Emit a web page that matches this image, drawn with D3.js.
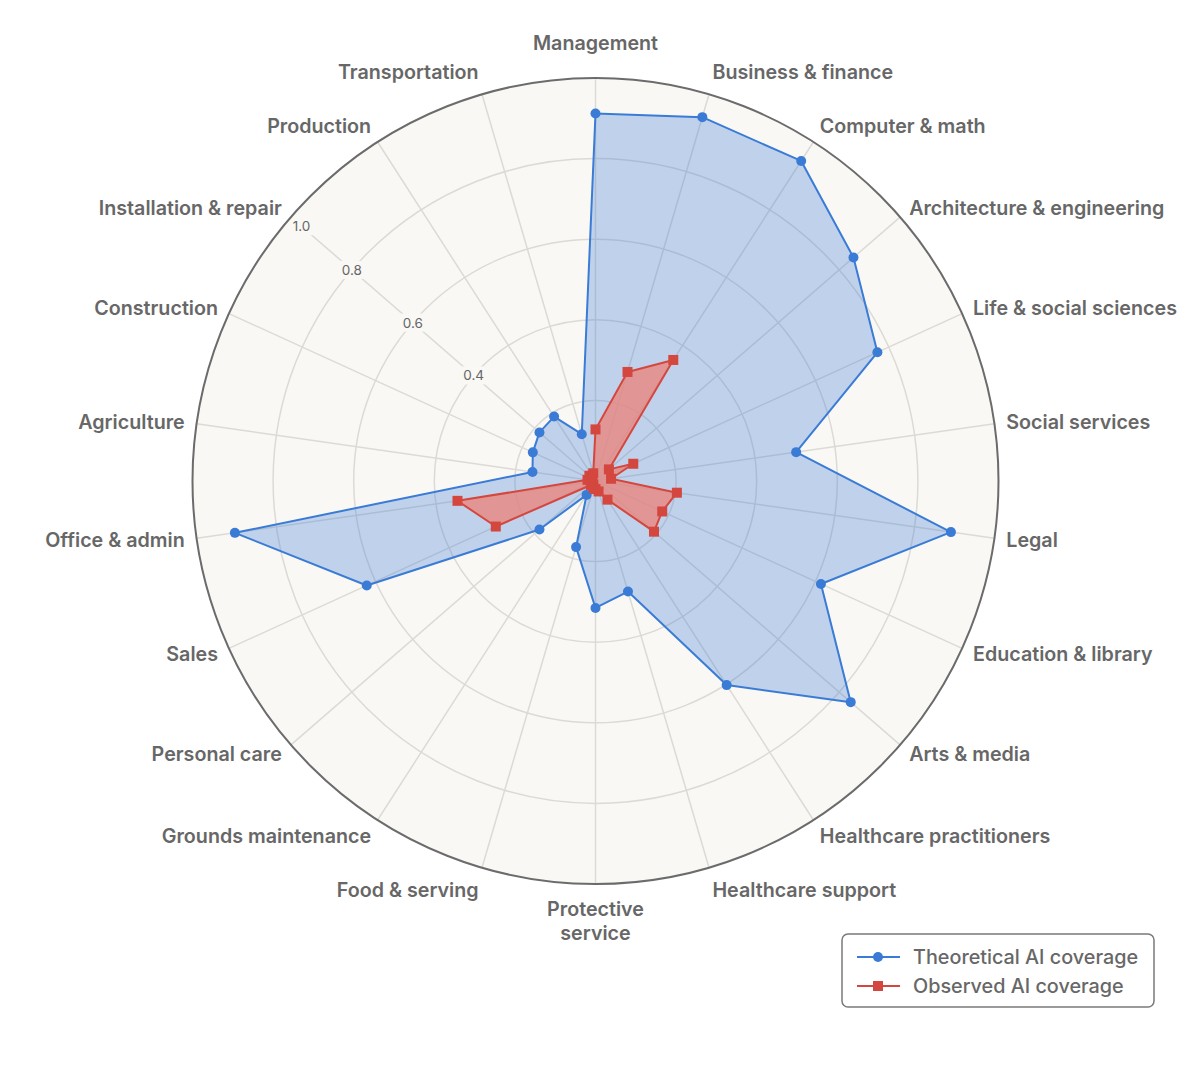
<!DOCTYPE html>
<html>
<head>
<meta charset="utf-8">
<script src="https://cdn.jsdelivr.net/npm/d3@7"></script>
<style>
  html, body { margin: 0; padding: 0; background: #ffffff; }
  svg { display: block; }
  text { font-family: "Inter", "Lato", sans-serif; }
</style>
</head>
<body>
<svg id="chart" width="1200" height="1073"></svg>
<script>
const categories = [
  "Management", "Business & finance", "Computer & math", "Architecture & engineering",
  "Life & social sciences", "Social services", "Legal", "Education & library",
  "Arts & media", "Healthcare practitioners", "Healthcare support", "Protective service",
  "Food & serving", "Grounds maintenance", "Personal care", "Sales",
  "Office & admin", "Agriculture", "Construction", "Installation & repair",
  "Production", "Transportation"
];
const theoretical = [
  0.912, 0.941, 0.944, 0.847, 0.769, 0.503, 0.891, 0.615, 0.838, 0.602, 0.286,
  0.315, 0.171, 0.041, 0.184, 0.624, 0.904, 0.158, 0.171, 0.184, 0.190, 0.121
];
const observed = [
  0.128, 0.282, 0.357, 0.044, 0.103, 0.039, 0.204, 0.182, 0.192, 0.055, 0.027,
  0.020, 0.018, 0.010, 0.015, 0.272, 0.346, 0.020, 0.015, 0.020, 0.015, 0.020
];
const gridValues = [0.2, 0.4, 0.6, 0.8, 1.0];
const tickLabels = ["0.4", "0.6", "0.8", "1.0"];
const seriesNames = ["Theoretical AI coverage", "Observed AI coverage"];

const svg = d3.select("#chart");
const cx = 595.5, cy = 481, R = 403;
const g = svg.append("g").attr("transform", `translate(${cx},${cy})`);

const rScale = d3.scaleLinear().domain([0, 1]).range([0, R]);
const aScale = d3.scaleLinear().domain([0, categories.length]).range([0, 2 * Math.PI]);

// background disc
g.append("circle").attr("r", R).attr("fill", "#f9f8f5");

// grid circles
g.selectAll("circle.grid").data(gridValues.slice(0, -1)).join("circle")
  .attr("class", "grid").attr("r", d => rScale(d))
  .attr("fill", "none").attr("stroke", "#dcdad5").attr("stroke-width", 1.5);

// spokes
g.selectAll("line.spoke").data(categories).join("line")
  .attr("class", "spoke")
  .attr("x1", 0).attr("y1", 0)
  .attr("x2", (d, i) => R * Math.sin(aScale(i)))
  .attr("y2", (d, i) => -R * Math.cos(aScale(i)))
  .attr("stroke", "#dcdad5").attr("stroke-width", 1.5);

// tick labels on the Installation & repair spoke
const tickIdx = categories.indexOf("Installation & repair");
const ta = aScale(tickIdx);
const tg = g.append("g");
tickLabels.forEach(t => {
  const v = +t;
  const r = Math.min(rScale(v), R - 14);
  const x = r * Math.sin(ta), y = -r * Math.cos(ta);
  const txt = tg.append("text").attr("x", x).attr("y", y)
    .attr("text-anchor", "middle").attr("dominant-baseline", "central")
    .attr("font-size", 13.5).attr("fill", "#666").text(t);
  const bb = txt.node().getBBox();
  tg.insert("rect", "text").attr("x", bb.x - 4).attr("y", bb.y - 1)
    .attr("width", bb.width + 8).attr("height", bb.height + 2).attr("fill", "#f9f8f5");
});

// outer circle
g.append("circle").attr("r", R).attr("fill", "none").attr("stroke", "#6b6b6b").attr("stroke-width", 2);

const radial = d3.lineRadial()
  .angle((d, i) => aScale(i))
  .radius(d => rScale(d))
  .curve(d3.curveLinearClosed);

const blue = "#3a7bd5", red = "#d4473f";

// theoretical
g.append("path").datum(theoretical).attr("d", radial)
  .attr("fill", blue).attr("fill-opacity", 0.3)
  .attr("stroke", blue).attr("stroke-width", 2).attr("stroke-linejoin", "round");
// observed
g.append("path").datum(observed).attr("d", radial)
  .attr("fill", "#e8877f").attr("fill-opacity", 0.8)
  .attr("stroke", red).attr("stroke-width", 2).attr("stroke-linejoin", "round");

g.selectAll("circle.pt").data(theoretical).join("circle")
  .attr("class", "pt")
  .attr("cx", (d, i) => rScale(d) * Math.sin(aScale(i)))
  .attr("cy", (d, i) => -rScale(d) * Math.cos(aScale(i)))
  .attr("r", 5).attr("fill", blue);

g.selectAll("rect.pt").data(observed).join("rect")
  .attr("class", "pt")
  .attr("x", (d, i) => rScale(d) * Math.sin(aScale(i)) - 5)
  .attr("y", (d, i) => -rScale(d) * Math.cos(aScale(i)) - 5)
  .attr("width", 10).attr("height", 10).attr("fill", red);

// category labels
const labR = R + 12;
categories.forEach((c, i) => {
  const a = aScale(i);
  const s = Math.sin(a), co = Math.cos(a);
  const x = labR * s;
  const y = -labR * co;
  let shift = -Math.sign(co) * 13 * Math.pow(Math.abs(co), 5);
  if (Math.abs(s) < 0.01 && co > 0) shift = -23;
  const anchor = s > 0.05 ? "start" : (s < -0.05 ? "end" : "middle");
  const words = (Math.abs(s) < 0.01 && co < 0) ? c.split(" ") : [c];
  const t = g.append("text").attr("text-anchor", anchor)
    .attr("font-size", 19.7).attr("font-weight", 600).attr("fill", "#676767");
  words.forEach((w, k) => {
    t.append("tspan").attr("x", x).attr("y", y + shift + k * 24)
      .attr("dominant-baseline", "central").text(w);
  });
});

// legend
const lg = svg.append("g").attr("transform", "translate(842,934)");
lg.append("rect").attr("width", 312).attr("height", 73).attr("rx", 6)
  .attr("fill", "#ffffff").attr("stroke", "#7a7a7a").attr("stroke-width", 1.5);
seriesNames.forEach((n, k) => {
  const yy = 23 + k * 29;
  const col = k === 0 ? blue : red;
  lg.append("line").attr("x1", 15).attr("x2", 58).attr("y1", yy).attr("y2", yy)
    .attr("stroke", col).attr("stroke-width", 2);
  if (k === 0) lg.append("circle").attr("cx", 36).attr("cy", yy).attr("r", 5).attr("fill", col);
  else lg.append("rect").attr("x", 31).attr("y", yy - 5).attr("width", 10).attr("height", 10).attr("fill", col);
  lg.append("text").attr("x", 71).attr("y", yy).attr("dominant-baseline", "central")
    .attr("font-size", 19.8).attr("font-weight", 500).attr("fill", "#676767").text(n);
});
</script>
</body>
</html>
